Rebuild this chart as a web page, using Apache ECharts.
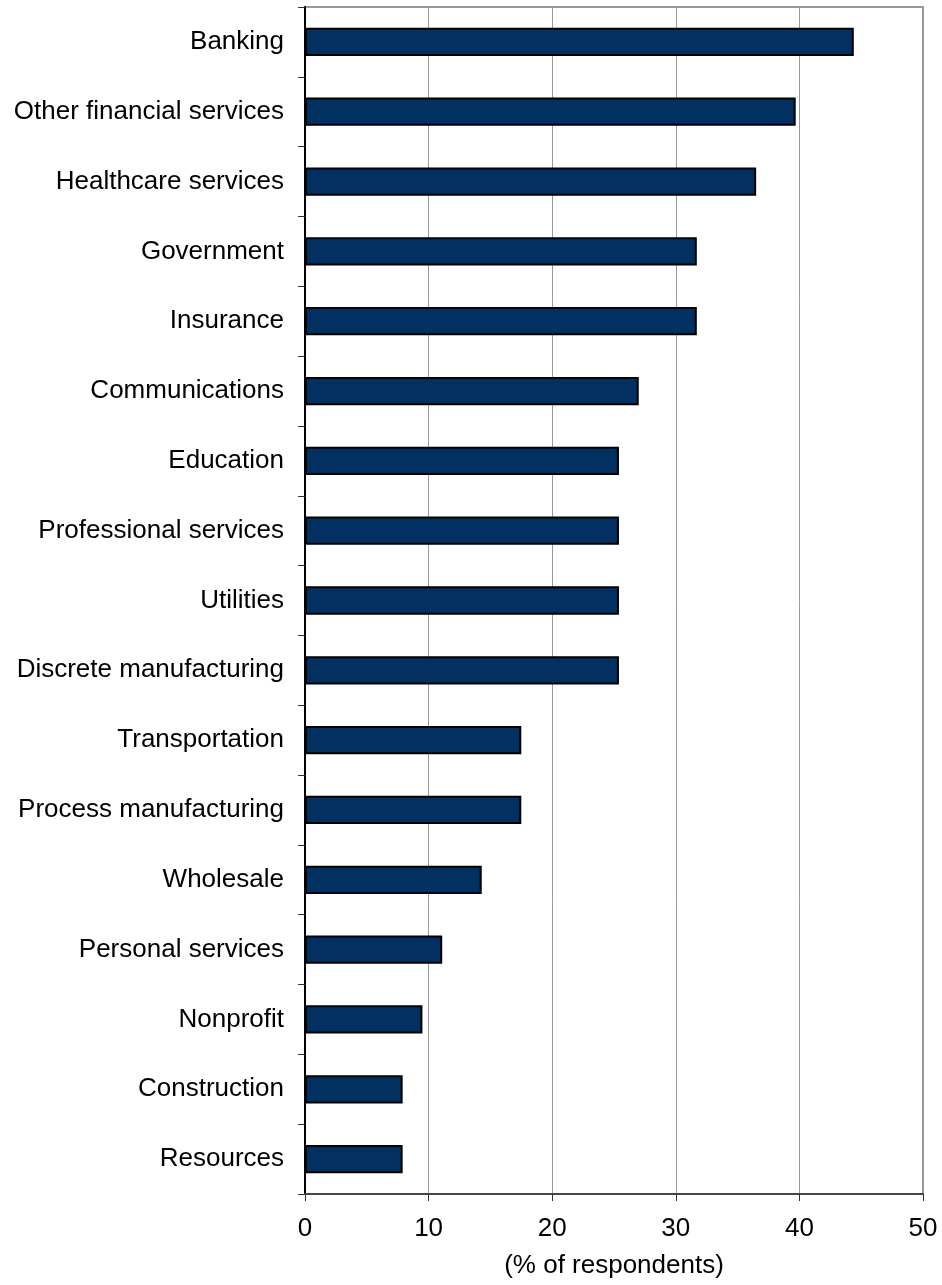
<!DOCTYPE html>
<html>
<head>
<meta charset="utf-8">
<script src="https://cdn.jsdelivr.net/npm/echarts@6/dist/echarts.min.js"></script>
<style>
html,body{margin:0;padding:0;background:#fff;}
#chart{width:942px;height:1285px;}
</style>
</head>
<body>
<div id="chart"></div>
<script>
const categories = [
  "Banking", "Other financial services", "Healthcare services", "Government",
  "Insurance", "Communications", "Education", "Professional services",
  "Utilities", "Discrete manufacturing", "Transportation", "Process manufacturing",
  "Wholesale", "Personal services", "Nonprofit", "Construction", "Resources"
];
const values = [44.4, 39.7, 36.5, 31.7, 31.7, 27.0, 25.4, 25.4, 25.4, 25.4, 17.5, 17.5, 14.3, 11.1, 9.5, 7.9, 7.9];
const xTicks = [0, 10, 20, 30, 40, 50];
const xTitle = "(% of respondents)";

const chart = echarts.init(document.getElementById('chart'), null, {renderer: 'canvas'});
const font = '"Liberation Sans", Arial, sans-serif';
chart.setOption({
  animation: false,
  backgroundColor: '#ffffff',
  grid: {
    left: 305, right: 19, top: 7, bottom: 91,
    show: true, borderColor: '#999999', borderWidth: 2
  },
  xAxis: {
    type: 'value',
    min: xTicks[0], max: xTicks[xTicks.length - 1], interval: 10,
    axisLine: {show: true, lineStyle: {color: '#444444', width: 2}},
    axisTick: {show: true, inside: false, length: 7, lineStyle: {color: '#333333', width: 1}},
    splitLine: {show: true, lineStyle: {color: '#999999', width: 1}},
    axisLabel: {color: '#000', fontSize: 26, fontFamily: font, margin: 22},
    name: xTitle, nameLocation: 'middle', nameGap: 59,
    nameTextStyle: {color: '#000', fontSize: 26, fontFamily: font, verticalAlign: 'top'}
  },
  yAxis: {
    type: 'category',
    data: categories,
    inverse: true,
    axisLine: {show: true, lineStyle: {color: '#000000', width: 2}},
    axisTick: {show: true, inside: false, length: 7, alignWithLabel: false, lineStyle: {color: '#333333', width: 1}},
    splitLine: {show: false},
    axisLabel: {color: '#000', fontSize: 26, fontFamily: font, margin: 21}
  },
  series: [{
    type: 'bar',
    data: values,
    barWidth: '40.5%',
    itemStyle: {color: '#023061', borderColor: '#000000', borderWidth: 2}
  }]
});
</script>
</body>
</html>
